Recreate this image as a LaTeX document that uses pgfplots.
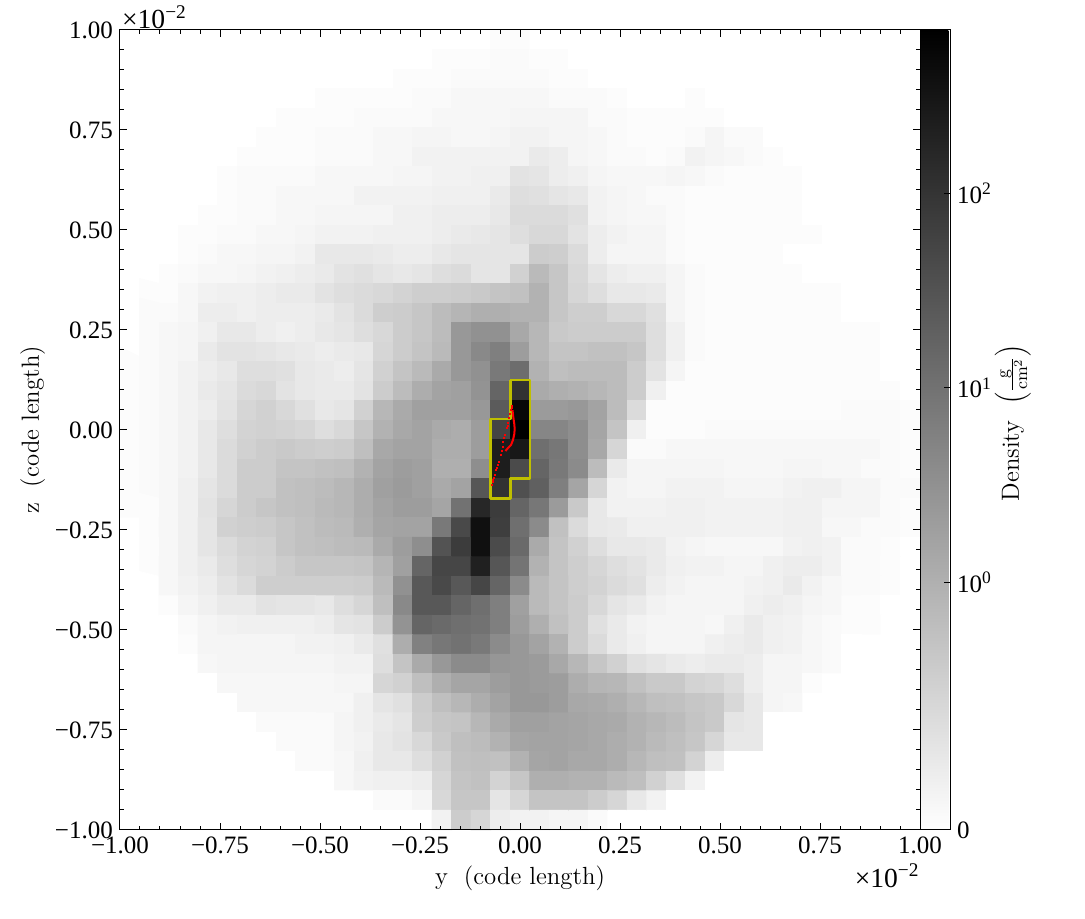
\documentclass[border=0pt]{standalone}
\usepackage{fontspec}
\usepackage{pgfplots}
\pgfplotsset{compat=1.18}
\newfontfamily\tickfont{Liberation Serif}
\newcommand{\tf}{\fontsize{12.5}{14}\selectfont\tickfont}
\newcommand{\ef}{\fontsize{13.8}{15}\selectfont\tickfont}
\newcommand{\lf}{\fontsize{12.4}{14}\selectfont}
\definecolor{boxyellow}{RGB}{191,191,0}
\begin{document}
\begin{tikzpicture}
\useasboundingbox (-60pt,-44.5pt) rectangle (482.5pt,415pt);
\begin{axis}[
  scale only axis,
  width=400pt,
  height=400pt,
  xmin=-1, xmax=1,
  ymin=-1, ymax=1,
  axis on top,
  clip=false,
  line width=0.5pt,
  tick align=inside,
  tick pos=both,
  xticklabel pos=bottom,
  yticklabel pos=left,
  major tick length=3.5pt,
  minor tick length=2pt,
  minor tick num=4,
  tick style={black, line width=0.5pt},
  xtick={-1,-0.75,-0.5,-0.25,0,0.25,0.5,0.75,1},
  ytick={-1,-0.75,-0.5,-0.25,0,0.25,0.5,0.75,1},
  xticklabels={−1.00,−0.75,−0.50,−0.25,0.00,0.25,0.50,0.75,1.00},
  yticklabels={−1.00,−0.75,−0.50,−0.25,0.00,0.25,0.50,0.75,1.00},
  ticklabel style={font=\tf},
  colormap={bw}{gray(0cm)=(1); gray(1cm)=(0)},
  point meta min=0,
  point meta max=100,
  colorbar,
  colorbar shift/.style={xshift=0pt},
  colorbar style={
    width=15pt,
    height=400pt,
    at={(1,1)},
    anchor=north west,
    ytick={0,30.94,55.25,79.6},
    yticklabels={0,10\textsuperscript{0},10\textsuperscript{1},10\textsuperscript{2}},
    yticklabel style={font=\tf},
    ytick pos=right,
    yticklabel pos=right,
    tick align=inside,
    major tick length=3pt,
    minor tick num=0,
    line width=0.5pt,
  },
]
\addplot[matrix plot*, mesh/cols=41, point meta=explicit]
table[row sep=crcr, meta=d,
  x expr={-1+(mod(\coordindex,41)+0.5)*2/41},
  y expr={1-(floor(\coordindex/41)+0.5)*2/41}] {
d\\
0\\0\\0\\0\\0\\0\\0\\0\\0\\0\\0\\0\\0\\0\\0\\0\\0\\0\\0\\1\\1\\0\\0\\0\\0\\0\\0\\0\\0\\0\\0\\0\\0\\0\\0\\0\\0\\0\\0\\0\\0\\
0\\0\\0\\0\\0\\0\\0\\0\\0\\0\\0\\0\\0\\0\\0\\0\\1\\1\\1\\2\\2\\1\\1\\0\\0\\0\\0\\0\\0\\0\\0\\0\\0\\0\\0\\0\\0\\0\\0\\0\\0\\
0\\0\\0\\0\\0\\0\\0\\0\\0\\0\\0\\0\\0\\0\\1\\1\\1\\2\\2\\2\\2\\2\\1\\1\\0\\0\\0\\0\\0\\0\\0\\0\\0\\0\\0\\0\\0\\0\\0\\0\\0\\
0\\0\\0\\0\\0\\0\\0\\0\\0\\0\\1\\1\\1\\1\\1\\2\\2\\3\\3\\3\\3\\3\\2\\2\\2\\1\\0\\0\\0\\1\\0\\0\\0\\0\\0\\0\\0\\0\\0\\0\\0\\
0\\0\\0\\0\\0\\0\\0\\0\\1\\1\\1\\1\\2\\2\\2\\2\\3\\3\\3\\3\\4\\4\\4\\4\\2\\2\\1\\1\\1\\1\\1\\0\\0\\0\\0\\0\\0\\0\\0\\0\\0\\
0\\0\\0\\0\\0\\0\\0\\1\\1\\1\\2\\2\\2\\3\\3\\4\\4\\3\\3\\4\\5\\5\\4\\4\\3\\2\\1\\1\\1\\2\\4\\2\\2\\0\\0\\0\\0\\0\\0\\0\\0\\
0\\0\\0\\0\\0\\0\\1\\1\\1\\1\\2\\2\\2\\3\\3\\5\\5\\5\\5\\5\\5\\8\\7\\4\\3\\2\\2\\1\\2\\5\\4\\3\\2\\1\\0\\0\\0\\0\\0\\0\\0\\
0\\0\\0\\0\\0\\1\\2\\2\\2\\2\\3\\3\\3\\3\\4\\4\\5\\5\\6\\6\\11\\10\\7\\6\\4\\3\\3\\3\\4\\3\\2\\1\\1\\1\\1\\0\\0\\0\\0\\0\\0\\
0\\0\\0\\0\\0\\1\\2\\2\\3\\3\\3\\3\\5\\5\\5\\5\\6\\6\\6\\8\\13\\12\\10\\9\\5\\4\\3\\2\\2\\1\\1\\1\\1\\1\\1\\0\\0\\0\\0\\0\\0\\
0\\0\\0\\0\\1\\1\\2\\2\\3\\3\\4\\4\\4\\4\\6\\6\\7\\7\\7\\9\\14\\14\\14\\12\\5\\4\\3\\3\\2\\1\\1\\1\\1\\1\\1\\0\\0\\0\\0\\0\\0\\
0\\0\\0\\1\\1\\2\\2\\3\\3\\4\\5\\5\\5\\6\\6\\6\\7\\8\\9\\10\\13\\15\\15\\11\\7\\5\\4\\4\\2\\1\\1\\1\\1\\1\\1\\1\\0\\0\\0\\0\\0\\
0\\0\\0\\1\\2\\3\\3\\4\\4\\5\\9\\9\\9\\8\\7\\7\\9\\10\\10\\10\\10\\20\\19\\14\\7\\4\\4\\4\\2\\1\\1\\1\\1\\1\\0\\0\\0\\0\\0\\0\\0\\
0\\0\\1\\2\\3\\3\\4\\5\\6\\7\\8\\11\\12\\10\\9\\10\\13\\14\\10\\10\\18\\27\\22\\15\\10\\7\\6\\6\\4\\2\\1\\1\\1\\1\\1\\0\\0\\0\\0\\0\\0\\
0\\1\\1\\3\\5\\6\\6\\7\\8\\8\\11\\13\\14\\15\\17\\19\\19\\20\\21\\23\\24\\30\\22\\16\\13\\9\\9\\8\\4\\2\\1\\1\\1\\1\\1\\1\\1\\0\\0\\0\\0\\
0\\2\\2\\3\\7\\7\\6\\7\\7\\7\\8\\11\\14\\19\\20\\22\\26\\29\\31\\31\\30\\30\\22\\19\\19\\15\\15\\12\\4\\2\\1\\1\\1\\1\\1\\1\\1\\0\\0\\0\\0\\
0\\2\\3\\4\\6\\9\\9\\7\\6\\7\\9\\10\\13\\15\\20\\22\\26\\40\\43\\43\\34\\28\\21\\20\\20\\20\\20\\13\\6\\2\\1\\1\\1\\1\\1\\1\\1\\1\\1\\0\\0\\
0\\2\\3\\4\\8\\11\\11\\10\\9\\8\\7\\8\\9\\16\\20\\23\\27\\40\\46\\50\\38\\28\\23\\23\\24\\24\\22\\13\\6\\2\\1\\1\\1\\1\\1\\1\\1\\1\\1\\0\\0\\
1\\2\\3\\5\\7\\9\\13\\13\\12\\9\\8\\7\\10\\18\\23\\27\\33\\40\\43\\52\\57\\30\\25\\26\\26\\26\\20\\11\\4\\1\\1\\1\\1\\1\\1\\1\\1\\1\\1\\0\\0\\
1\\2\\3\\5\\8\\10\\14\\15\\11\\9\\8\\8\\11\\20\\26\\32\\36\\37\\42\\60\\80\\33\\31\\30\\28\\26\\20\\6\\1\\1\\1\\1\\1\\1\\1\\1\\1\\1\\1\\1\\0\\
1\\2\\3\\5\\7\\11\\16\\18\\15\\12\\9\\10\\18\\28\\33\\37\\37\\37\\40\\64\\96\\39\\39\\40\\36\\26\\14\\1\\1\\1\\1\\1\\1\\1\\1\\1\\1\\2\\2\\2\\1\\
1\\2\\3\\5\\9\\13\\17\\18\\17\\16\\13\\15\\22\\30\\34\\36\\33\\32\\38\\73\\100\\47\\47\\44\\35\\23\\6\\1\\1\\1\\2\\2\\2\\2\\2\\2\\2\\2\\2\\2\\1\\
1\\2\\3\\5\\9\\14\\18\\20\\21\\20\\19\\20\\25\\34\\36\\36\\32\\32\\38\\88\\90\\56\\53\\44\\34\\16\\2\\2\\3\\3\\3\\3\\3\\3\\3\\3\\3\\3\\3\\2\\1\\
1\\2\\3\\5\\9\\14\\20\\20\\23\\23\\24\\25\\30\\36\\38\\37\\31\\31\\44\\88\\70\\60\\52\\45\\26\\8\\4\\4\\4\\4\\4\\3\\3\\3\\4\\4\\3\\3\\2\\2\\1\\
1\\2\\3\\6\\10\\14\\20\\20\\24\\25\\26\\28\\32\\37\\39\\37\\33\\36\\66\\80\\68\\62\\50\\35\\16\\5\\4\\4\\5\\5\\5\\4\\4\\4\\5\\6\\6\\4\\4\\2\\2\\
1\\1\\3\\6\\11\\16\\20\\22\\24\\25\\27\\28\\32\\36\\38\\38\\35\\55\\84\\76\\60\\53\\39\\21\\9\\5\\5\\5\\6\\6\\5\\5\\5\\5\\6\\6\\4\\4\\4\\2\\1\\
0\\1\\3\\6\\10\\18\\19\\20\\22\\24\\26\\27\\31\\35\\36\\36\\52\\71\\93\\75\\56\\45\\24\\14\\9\\8\\6\\6\\6\\6\\5\\5\\5\\5\\6\\6\\3\\3\\2\\2\\1\\
0\\1\\3\\6\\10\\14\\17\\18\\22\\24\\25\\26\\27\\33\\38\\44\\67\\76\\93\\70\\58\\33\\23\\18\\13\\9\\9\\8\\5\\4\\3\\3\\3\\3\\5\\6\\5\\2\\2\\1\\0\\
0\\1\\3\\6\\8\\13\\16\\17\\20\\22\\22\\22\\23\\29\\37\\60\\72\\72\\87\\66\\54\\30\\23\\19\\16\\13\\11\\8\\6\\5\\5\\4\\4\\6\\7\\7\\5\\2\\2\\1\\0\\
0\\0\\3\\5\\7\\11\\14\\19\\19\\19\\19\\19\\20\\27\\43\\65\\71\\65\\72\\60\\45\\27\\23\\19\\17\\14\\12\\7\\5\\4\\4\\4\\5\\6\\8\\5\\3\\2\\2\\1\\0\\
0\\0\\1\\4\\6\\8\\8\\11\\10\\10\\9\\13\\16\\25\\46\\65\\65\\60\\56\\50\\37\\27\\23\\20\\15\\10\\8\\5\\4\\4\\4\\4\\6\\7\\6\\4\\3\\1\\1\\0\\0\\
0\\0\\0\\2\\4\\5\\6\\6\\6\\6\\7\\10\\11\\20\\42\\60\\58\\56\\55\\50\\38\\31\\24\\20\\12\\8\\5\\4\\4\\4\\3\\6\\8\\6\\5\\3\\2\\1\\1\\0\\0\\
0\\0\\0\\1\\4\\4\\4\\4\\4\\5\\5\\6\\8\\12\\32\\49\\53\\55\\52\\45\\40\\36\\30\\20\\14\\8\\6\\4\\4\\4\\6\\7\\8\\6\\5\\3\\2\\0\\0\\0\\0\\
0\\0\\0\\0\\3\\4\\4\\4\\4\\4\\4\\5\\5\\13\\23\\33\\40\\45\\45\\41\\40\\39\\34\\28\\22\\18\\12\\10\\8\\7\\8\\8\\7\\4\\4\\3\\2\\0\\0\\0\\0\\
0\\0\\0\\0\\0\\3\\3\\3\\3\\3\\3\\4\\4\\16\\18\\25\\31\\35\\35\\38\\40\\39\\38\\32\\29\\28\\24\\21\\21\\17\\16\\13\\7\\4\\4\\1\\0\\0\\0\\0\\0\\
0\\0\\0\\0\\0\\0\\3\\3\\3\\3\\3\\3\\6\\10\\12\\20\\25\\28\\32\\36\\40\\40\\38\\34\\33\\31\\28\\25\\24\\22\\21\\15\\9\\4\\3\\0\\0\\0\\0\\0\\0\\
0\\0\\0\\0\\0\\0\\0\\2\\2\\2\\2\\4\\6\\8\\10\\19\\22\\23\\28\\33\\37\\37\\36\\35\\34\\33\\30\\28\\26\\23\\21\\10\\9\\0\\0\\0\\0\\0\\0\\0\\0\\
0\\0\\0\\0\\0\\0\\0\\0\\2\\2\\2\\4\\5\\9\\11\\15\\21\\25\\26\\30\\35\\36\\36\\35\\34\\32\\30\\27\\25\\22\\16\\9\\9\\0\\0\\0\\0\\0\\0\\0\\0\\
0\\0\\0\\0\\0\\0\\0\\0\\0\\2\\2\\3\\6\\9\\9\\13\\18\\24\\25\\24\\30\\35\\36\\34\\34\\32\\28\\25\\24\\17\\7\\0\\0\\0\\0\\0\\0\\0\\0\\0\\0\\
0\\0\\0\\0\\0\\0\\0\\0\\0\\0\\0\\3\\5\\6\\6\\7\\16\\23\\24\\17\\22\\31\\31\\30\\30\\27\\25\\18\\12\\5\\0\\0\\0\\0\\0\\0\\0\\0\\0\\0\\0\\
0\\0\\0\\0\\0\\0\\0\\0\\0\\0\\0\\0\\0\\2\\2\\4\\15\\22\\22\\10\\16\\23\\23\\23\\20\\16\\9\\5\\0\\0\\0\\0\\0\\0\\0\\0\\0\\0\\0\\0\\0\\
0\\0\\0\\0\\0\\0\\0\\0\\0\\0\\0\\0\\0\\0\\0\\0\\5\\20\\16\\7\\5\\5\\4\\4\\2\\0\\0\\0\\0\\0\\0\\0\\0\\0\\0\\0\\0\\0\\0\\0\\0\\
};
% refinement region outline
\addplot[boxyellow, line width=1.3pt, line join=round, mark=none] coordinates {
(-0.0244,0.125) (0.0254,0.125) (0.0254,-0.122) (-0.0244,-0.122) (-0.0244,-0.171)
(-0.0745,-0.171) (-0.0745,0.027) (-0.0244,0.027) (-0.0244,0.125)
};
% particle track, dense part
\addplot[red, line width=1pt, mark=none] coordinates {
(-0.0188,0.05) (-0.0168,0.0325) (-0.0143,0.015) (-0.0133,0.0025)
(-0.0143,-0.01) (-0.0175,-0.025) (-0.0225,-0.0375) (-0.03,-0.045) (-0.0363,-0.0525)
};
% particle track, sparse part
\addplot[only marks, red, mark=square*, mark size=0.22pt] coordinates {
(-0.0208,0.06) (-0.0198,0.055) (-0.0233,0.05) (-0.025,0.04) (-0.0268,0.0292)
(-0.0292,0.0167) (-0.031,0.01) (-0.0333,0.0042) (-0.0375,-0.0125) (-0.04,-0.0208)
(-0.0415,-0.03) (-0.0433,-0.0417) (-0.0455,-0.052) (-0.0475,-0.0625) (-0.0517,-0.0792)
(-0.0558,-0.0875) (-0.058,-0.094) (-0.06,-0.1) (-0.0633,-0.1125) (-0.065,-0.119)
(-0.0667,-0.125) (-0.0685,-0.131) (-0.07,-0.1375)
};
\node[font=\lf] at (rel axis cs:0.5,-0.06) {y\ \ (code length)};
\node[font=\lf, rotate=90] at (rel axis cs:-0.109,0.5) {z\ \ (code length)};
\node[font=\lf, rotate=90] at (rel axis cs:1.116,0.509) {Density\ \ $\left(\frac{\mathrm{g}}{\mathrm{cm}^2}\right)$};
\node[font=\ef, anchor=west, inner sep=0pt] at (rel axis cs:0.002,1.016) {×10\textsuperscript{−2}};
\node[font=\ef, anchor=east, inner sep=0pt] at (rel axis cs:1,-0.057) {×10\textsuperscript{−2}};
\end{axis}
\end{tikzpicture}
\end{document}
